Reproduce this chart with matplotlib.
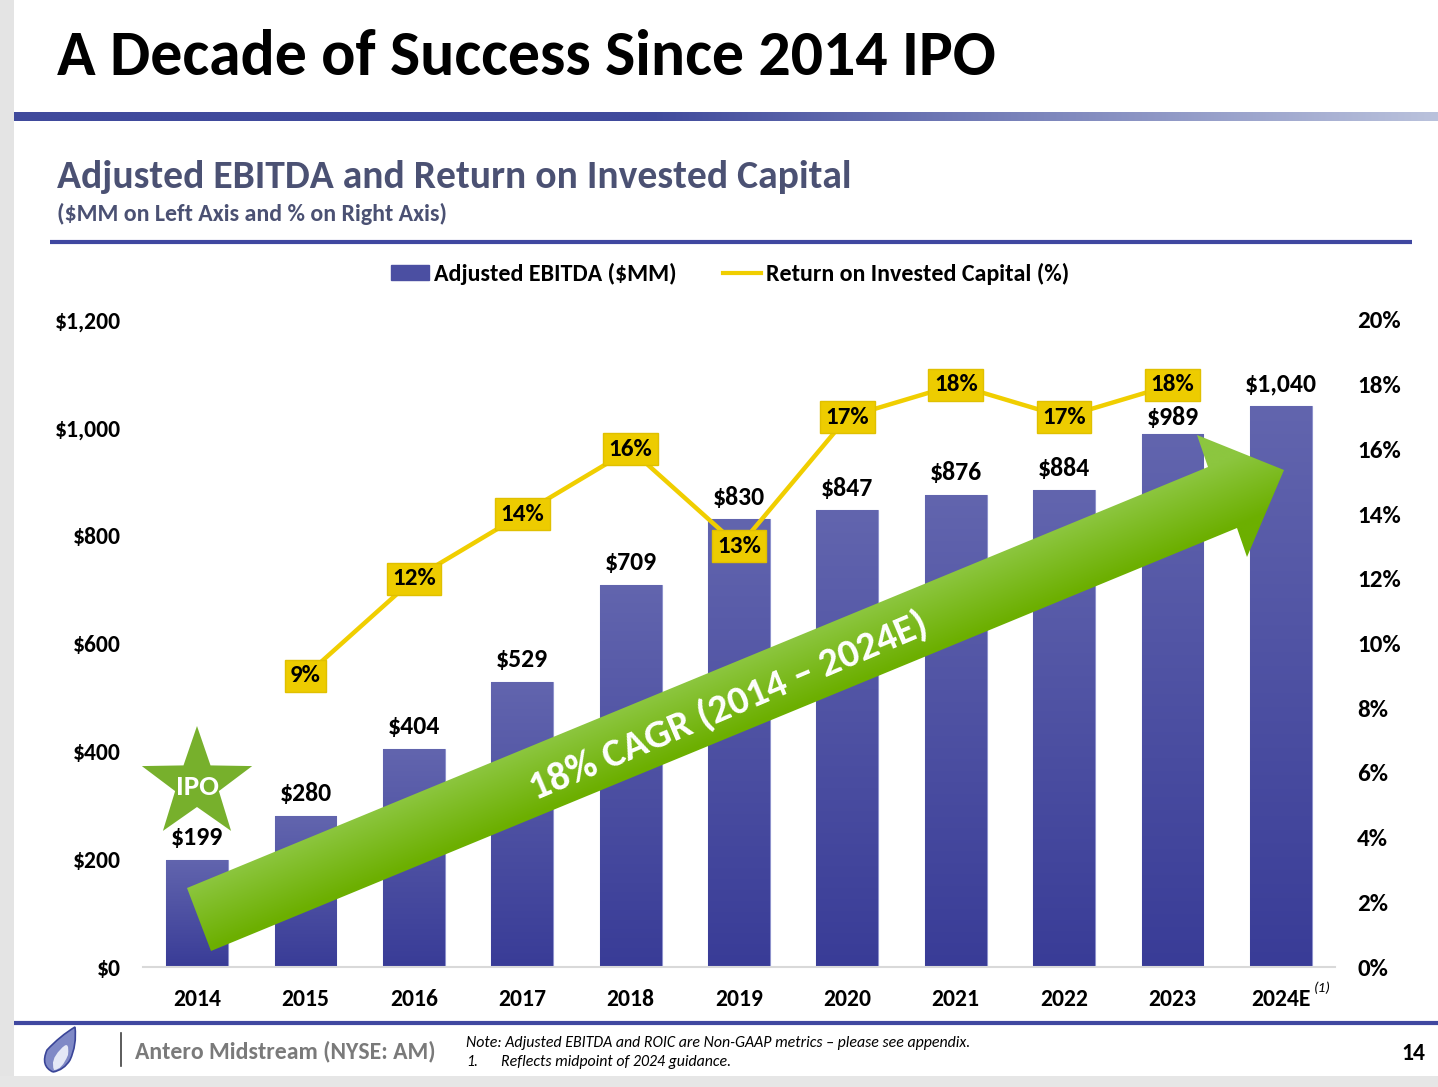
import numpy as np
import matplotlib
matplotlib.use("Agg")
import matplotlib.pyplot as plt
from matplotlib import font_manager
from matplotlib.colors import to_rgb
from matplotlib.lines import Line2D
from matplotlib.patches import Patch, Polygon, Rectangle, PathPatch
from matplotlib.path import Path

# data
years = ["2014", "2015", "2016", "2017", "2018", "2019", "2020", "2021", "2022", "2023", "2024E"]
ebitda = [199, 280, 404, 529, 709, 830, 847, 876, 884, 989, 1040]
roic_years = years[1:10]
roic = [9, 12, 14, 16, 13, 17, 18, 17, 18]
left_ticks = [0, 200, 400, 600, 800, 1000, 1200]
right_ticks = [0, 2, 4, 6, 8, 10, 12, 14, 16, 18, 20]

installed = {f.name for f in font_manager.fontManager.ttflist}
FONT = next(f for f in ["Carlito", "Calibri", "Lato", "Open Sans", "DejaVu Sans"] if f in installed)
plt.rcParams["font.family"] = [FONT, "DejaVu Sans"]

W, H = 1438, 1087
fig = plt.figure(figsize=(W / 100, H / 100), dpi=100)
fig.patch.set_facecolor("white")

NAVY = "#404A9C"
BAR_TOP = "#6265AE"
BAR_BOT = "#393C97"
YEL = "#F0CE00"
SLATE = "#4B5173"


def fit(t, target):
    r = fig.canvas.get_renderer()
    w = t.get_window_extent(r).width
    t.set_fontsize(t.get_fontsize() * target / w)


# ---- slide furniture (pixel coords) ----
bg = fig.add_axes([0, 0, 1, 1], zorder=0)
bg.axis("off")
bg.add_patch(Rectangle((0, 0), 14, H, color="#E4E4E4", lw=0))
bg.add_patch(Rectangle((0, 1076), W, 11, color="#E6E6E6", lw=0))

xs = np.linspace(14, W, 700)
t = np.clip((xs - 650) / (W - 650), 0, 1)[:, None]
grad = np.array(to_rgb(NAVY)) * (1 - t) + np.array(to_rgb("#BAC2DC")) * t
bg.imshow(grad[None, :, :], extent=(14, W, 121, 112), aspect="auto", interpolation="bilinear")

bg.plot([50, 1412], [242, 242], color="#3F47A0", lw=3, solid_capstyle="butt")
bg.plot([14, W], [1023, 1023], color="#4048A0", lw=3, solid_capstyle="butt")
bg.plot([121, 121], [1033, 1066], color="#404040", lw=1.2)

# flame logo
flame = Path([(53, 1072), (40, 1066), (47, 1050), (60, 1036), (75, 1027),
              (77, 1045), (70, 1060), (64, 1070), (53, 1072)],
             [Path.MOVETO, Path.CURVE3, Path.CURVE3, Path.CURVE3, Path.CURVE3,
              Path.CURVE3, Path.CURVE3, Path.CURVE3, Path.CLOSEPOLY])
bg.add_patch(PathPatch(flame, fc="#7F89C6", ec="#3A4598", lw=1.2))
inner = Path([(54, 1070), (50, 1060), (60, 1050), (70, 1038), (68, 1055), (62, 1070), (54, 1070)],
             [Path.MOVETO, Path.CURVE3, Path.CURVE3, Path.CURVE3, Path.CURVE3, Path.CURVE3, Path.CLOSEPOLY])
bg.add_patch(PathPatch(inner, fc="#E4E8F6", ec="none"))

bg.set_xlim(0, W)
bg.set_ylim(H, 0)

title = fig.text(57 / W, 1 - 57 / H, "A Decade of Success Since 2014 IPO", fontsize=46,
                 fontweight="bold", color="black", va="center", ha="left")
fit(title, 940)
sub = fig.text(57 / W, 1 - 177 / H, "Adjusted EBITDA and Return on Invested Capital", fontsize=28,
               fontweight="bold", color=SLATE, va="center", ha="left")
fit(sub, 796)
sub2 = fig.text(57 / W, 1 - 214 / H, "($MM on Left Axis and % on Right Axis)", fontsize=15,
                fontweight="bold", color=SLATE, va="center", ha="left")
fit(sub2, 390)

comp = fig.text(135 / W, 1 - 1051 / H, "Antero Midstream (NYSE: AM)", fontsize=15,
                fontweight="bold", color="#7A7A7A", va="center", ha="left")
fit(comp, 301)
note = fig.text(466 / W, 1 - 1043 / H,
                "Note: Adjusted EBITDA and ROIC are Non-GAAP metrics \u2013 please see appendix.",
                fontsize=10, style="italic", color="black", va="center", ha="left")
fit(note, 505)
fig.text(466 / W, 1 - 1062 / H, "1.", fontsize=note.get_fontsize(), style="italic",
         va="center", ha="left")
fig.text(501 / W, 1 - 1062 / H, "Reflects midpoint of 2024 guidance.", fontsize=note.get_fontsize(),
         style="italic", va="center", ha="left")
fig.text(1425 / W, 1 - 1053 / H, "14", fontsize=17, fontweight="bold", va="center", ha="right")

# ---- main chart ----
ax = fig.add_axes([143 / W, 1 - 967 / H, (1335 - 143) / W, (967 - 320) / H], zorder=1)
ax.patch.set_alpha(0)
x = np.arange(len(years))
bars = ax.bar(x, ebitda, width=0.57, color=BAR_BOT, edgecolor="#8E92CC", linewidth=0.8, zorder=2)
vgrad = np.linspace(0, 1, 256)[:, None]
vimg = np.array(to_rgb(BAR_TOP)) * (1 - vgrad) + np.array(to_rgb(BAR_BOT)) * vgrad
for b in bars:
    im = ax.imshow(vimg[:, None, :], extent=(b.get_x(), b.get_x() + b.get_width(), 0, b.get_height()),
                   aspect="auto", origin="upper", zorder=2.1, interpolation="bilinear")
    im.set_clip_path(b)

ax.set_xlim(-0.5, 10.5)
ax.set_ylim(0, 1200)
for s in ["top", "left", "right"]:
    ax.spines[s].set_visible(False)
ax.spines["bottom"].set_color("#D9D9D9")
ax.spines["bottom"].set_linewidth(1.5)
ax.set_xticks(x)
ax.set_xticklabels(years, fontsize=17, fontweight="bold")
ax.set_yticks(left_ticks)
ax.set_yticklabels([f"${v:,}" for v in left_ticks], fontsize=17, fontweight="bold")
ax.tick_params(axis="y", length=0, pad=16)
ax.tick_params(axis="x", length=0, pad=16)

# overlay for arrow, star and value labels
fg = fig.add_axes([0, 0, 1, 1], zorder=2)
fg.axis("off")

arrow_pts = [(187, 888), (1208, 467), (1197, 435), (1284, 470), (1247, 557), (1237, 528), (211, 951)]
arrow = Polygon(arrow_pts, closed=True, fc="none", ec="none")
fg.add_patch(arrow)
gx, gy = np.meshgrid(np.linspace(180, 1290, 400), np.linspace(430, 955, 200))
d = np.array([1021.0, -421.0])
d /= np.linalg.norm(d)
n = np.array([-d[1], d[0]])
tt = np.clip(((gx - 187) * n[0] + (gy - 888) * n[1]) / 65.0, 0, 1)[..., None]
c_top, c_bot = np.array(to_rgb("#8CC63F")), np.array(to_rgb("#6CAF00"))
aimg = c_top * (1 - tt) + c_bot * tt
aim = fg.imshow(aimg, extent=(180, 1290, 955, 430), origin="upper", aspect="auto", zorder=2,
                interpolation="bilinear")
aim.set_clip_path(arrow)
fg.text(728, 706, "18% CAGR (2014 \u2013 2024E)", rotation=23, rotation_mode="anchor",
        ha="center", va="center", fontsize=29, fontweight="bold", color="white", zorder=4)

ang = np.deg2rad(90 + np.arange(10) * 36)
rad = np.where(np.arange(10) % 2 == 0, 58, 23)
star = Polygon(np.column_stack([197 + rad * np.cos(ang), 784 - rad * np.sin(ang)]),
               closed=True, fc="#77B02C", ec="none", zorder=3)
fg.add_patch(star)
fg.text(197, 787, "IPO", ha="center", va="center", fontsize=21, fontweight="bold", color="white", zorder=4)
fg.text(1314, 988, "(1)", ha="left", va="center", fontsize=11, style="italic", zorder=4)
fg.set_xlim(0, W)
fg.set_ylim(H, 0)

for xi, v in zip(x, ebitda):
    off = 11.5 if years[xi] == "2023" else 16  # 2023 label sits lower, under the ROIC box
    fg.annotate(f"${v:,}", (xi, v), xycoords=ax.transData, xytext=(0, off), textcoords="offset points",
                ha="center", va="center", fontsize=18.5, fontweight="bold", color="black", zorder=5)

# ROIC line on right axis
ax2 = ax.twinx()
ax2.set_zorder(3)
ax2.set_ylim(0, 20)
for s in ["top", "left", "right", "bottom"]:
    ax2.spines[s].set_visible(False)
ax2.set_yticks(right_ticks)
ax2.set_yticklabels([f"{v}%" for v in right_ticks], fontsize=18, fontweight="bold")
ax2.tick_params(axis="y", length=0, pad=16)
rx = [years.index(y) for y in roic_years]
ax2.plot(rx, roic, color=YEL, lw=3.2, zorder=3)
for xi, v in zip(rx, roic):
    ax2.text(xi, v, f"{v}%", ha="center", va="center", fontsize=18, fontweight="bold", zorder=4,
             bbox=dict(boxstyle="square,pad=0.22", fc="#EDCC00", ec="#E0C000", lw=1))

handles = [Patch(fc="#4B4FA2", ec="#4B4FA2"), Line2D([0], [0], color=YEL, lw=3)]
fig.legend(handles, ["Adjusted EBITDA ($MM)", "Return on Invested Capital (%)"], loc="center",
           bbox_to_anchor=(730 / W, 1 - 274 / H), ncol=2, frameon=False,
           prop={"weight": "bold", "size": 17.3}, handlelength=1.6, handleheight=0.62,
           handletextpad=0.2, columnspacing=1.9)

fig.savefig("out.png", dpi=100)
